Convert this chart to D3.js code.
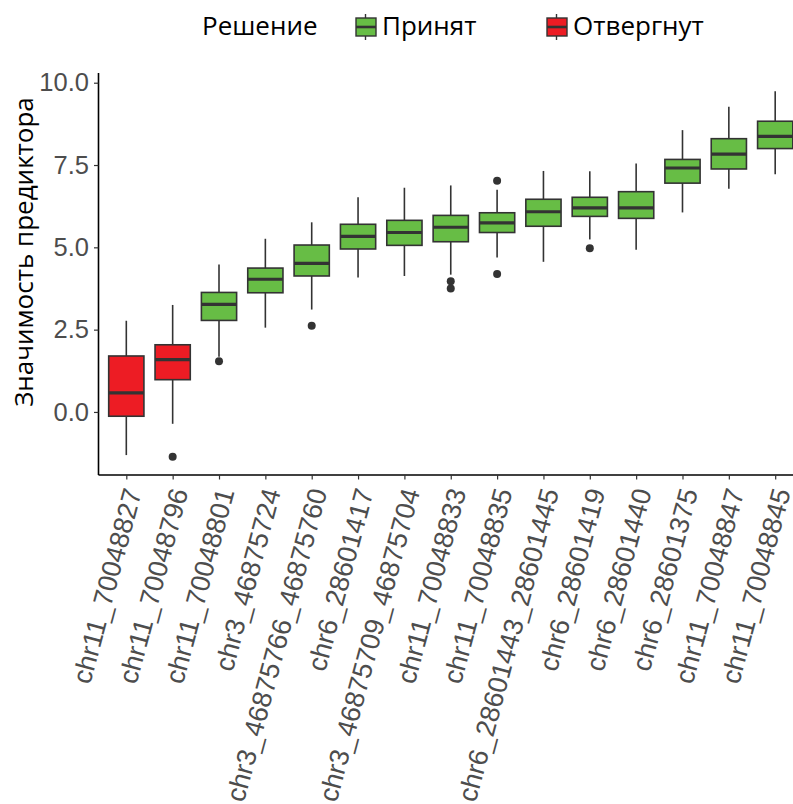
<!DOCTYPE html>
<html>
<head>
<meta charset="utf-8">
<script src="https://cdn.jsdelivr.net/npm/d3@7"></script>
<style>
  body { margin: 0; background: #fff; }
  svg { display: block; }
</style>
</head>
<body>
<svg width="793" height="804"></svg>
<script>
// markers, ordered as on the x axis
const markers = ["chr11_70048827", "chr11_70048796", "chr11_70048801", "chr3_46875724",
  "chr3_46875766_46875760", "chr6_28601417", "chr3_46875709_46875704", "chr11_70048833",
  "chr11_70048835", "chr6_28601443_28601445", "chr6_28601419", "chr6_28601440",
  "chr6_28601375", "chr11_70048847", "chr11_70048845"];
const decisions = ["Отвергнут", "Отвергнут", "Принят", "Принят", "Принят", "Принят", "Принят",
  "Принят", "Принят", "Принят", "Принят", "Принят", "Принят", "Принят", "Принят"];

// box statistics
const lowerWhisker = [-1.31, -0.36, 1.68, 2.56, 3.11, 4.08, 4.13, 4.17, 4.69, 4.56, 5.24, 4.93, 6.06, 6.78, 7.22];
const q1 = [-0.13, 0.98, 2.78, 3.62, 4.13, 4.95, 5.06, 5.17, 5.45, 5.64, 5.94, 5.88, 6.95, 7.38, 8.00];
const medians = [0.58, 1.59, 3.27, 4.03, 4.51, 5.33, 5.45, 5.61, 5.74, 6.08, 6.20, 6.20, 7.41, 7.83, 8.37];
const q3 = [1.70, 2.04, 3.63, 4.37, 5.07, 5.70, 5.82, 5.97, 6.05, 6.46, 6.52, 6.69, 7.67, 8.30, 8.83];
const upperWhisker = [2.77, 3.25, 4.48, 5.26, 5.76, 6.52, 6.81, 6.88, 6.75, 7.32, 7.31, 7.55, 8.56, 9.27, 9.74];
const outliers = [[], [-1.36], [1.54], [], [2.62], [], [], [3.97, 3.75], [7.02, 4.19], [], [4.97], [], [], [], []];

const yTicks = [0, 2.5, 5, 7.5, 10];
const legendKeys = ["Принят", "Отвергнут"];
const colors = {"Принят": "#67bd45", "Отвергнут": "#ed1c24"};

const ink = "#333333";
const svg = d3.select("svg");

let plotLeft = 98.5, plotRight = 803, plotTop = 73, plotBottom = 475;

const x = d3.scalePoint().domain(markers).range([plotLeft, plotRight]).padding(0.6);
const y = d3.scaleLinear().domain([-1.915, 10.295]).range([plotBottom, plotTop]);
const boxW = x.step() * 0.76;

const boxes = markers.map((m, i) => ({
  marker: m, decision: decisions[i],
  lo: lowerWhisker[i], q1: q1[i], med: medians[i], q3: q3[i], hi: upperWhisker[i],
  out: outliers[i]
}));

const g = svg.append("g");

// whiskers
g.selectAll(".whisker")
  .data(boxes)
  .enter().append("line")
  .attr("x1", d => x(d.marker)).attr("x2", d => x(d.marker))
  .attr("y1", d => y(d.lo)).attr("y2", d => y(d.hi))
  .attr("stroke", ink).attr("stroke-width", 1.6);

// boxes
g.selectAll(".box")
  .data(boxes)
  .enter().append("rect")
  .attr("x", d => x(d.marker) - boxW / 2)
  .attr("y", d => y(d.q3))
  .attr("width", boxW)
  .attr("height", d => y(d.q1) - y(d.q3))
  .attr("fill", d => colors[d.decision])
  .attr("stroke", ink).attr("stroke-width", 1.6);

// medians
g.selectAll(".median")
  .data(boxes)
  .enter().append("line")
  .attr("x1", d => x(d.marker) - boxW / 2).attr("x2", d => x(d.marker) + boxW / 2)
  .attr("y1", d => y(d.med)).attr("y2", d => y(d.med))
  .attr("stroke", ink).attr("stroke-width", 3.2);

// outliers
boxes.forEach(d => {
  g.selectAll(null)
    .data(d.out)
    .enter().append("circle")
    .attr("cx", x(d.marker))
    .attr("cy", v => y(v))
    .attr("r", 4)
    .attr("fill", ink);
});

// axes
const yAxis = svg.append("g")
  .attr("transform", `translate(${plotLeft},0)`)
  .call(d3.axisLeft(y).tickValues(yTicks).tickFormat(d3.format(".1f")).tickSize(4.5).tickPadding(5));
yAxis.select(".domain").attr("d", `M0,${plotTop}V${plotBottom}`).attr("stroke", "#000").attr("stroke-width", 1.6);
yAxis.selectAll(".tick line").attr("stroke", ink).attr("stroke-width", 1.2);
yAxis.selectAll(".tick text")
  .attr("font-family", "'Liberation Sans', Arial, sans-serif")
  .attr("font-size", "25.5px").attr("fill", "#4d4d4d");

const xAxis = svg.append("g")
  .attr("transform", `translate(0,${plotBottom})`)
  .call(d3.axisBottom(x).tickSize(4.5).tickFormat(""));
xAxis.select(".domain").attr("d", `M${plotLeft},0H${plotRight}`).attr("stroke", "#000").attr("stroke-width", 1.6);
xAxis.selectAll(".tick line").attr("stroke", ink).attr("stroke-width", 1.2);

xAxis.selectAll(".tick").append("text")
  .attr("transform", "translate(6,14) rotate(-75)")
  .attr("text-anchor", "end")
  .attr("dy", "0.35em")
  .attr("font-family", "'Liberation Sans', Arial, sans-serif")
  .attr("font-size", "27px").attr("fill", "#4d4d4d")
  .text(d => d);

// y axis title
svg.append("text")
  .attr("transform", "translate(33,252) rotate(-90)")
  .attr("text-anchor", "middle")
  .attr("font-family", "'Open Sans', sans-serif")
  .attr("font-size", "26px").attr("fill", "#000")
  .text("Значимость предиктора");

// legend
const legend = svg.append("g");
legend.append("text")
  .attr("x", 202).attr("y", 35)
  .attr("font-family", "'Open Sans', sans-serif")
  .attr("font-size", "26px").attr("fill", "#000")
  .text("Решение");

const keyX = [355, 546];
legendKeys.forEach((k, i) => {
  const row = legend.append("g").attr("transform", `translate(${keyX[i]},0)`);
  row.append("line").attr("x1", 10.5).attr("x2", 10.5).attr("y1", 14).attr("y2", 40)
    .attr("stroke", ink).attr("stroke-width", 1.4);
  row.append("rect").attr("x", 1).attr("y", 18).attr("width", 20).attr("height", 18)
    .attr("fill", colors[k]).attr("stroke", ink).attr("stroke-width", 1.4);
  row.append("line").attr("x1", 1).attr("x2", 21).attr("y1", 27).attr("y2", 27)
    .attr("stroke", ink).attr("stroke-width", 2.6);
  row.append("text")
    .attr("x", 27).attr("y", 35)
    .attr("font-family", "'Open Sans', sans-serif")
    .attr("font-size", "26px").attr("fill", "#000")
    .text(k);
});
</script>
</body>
</html>
